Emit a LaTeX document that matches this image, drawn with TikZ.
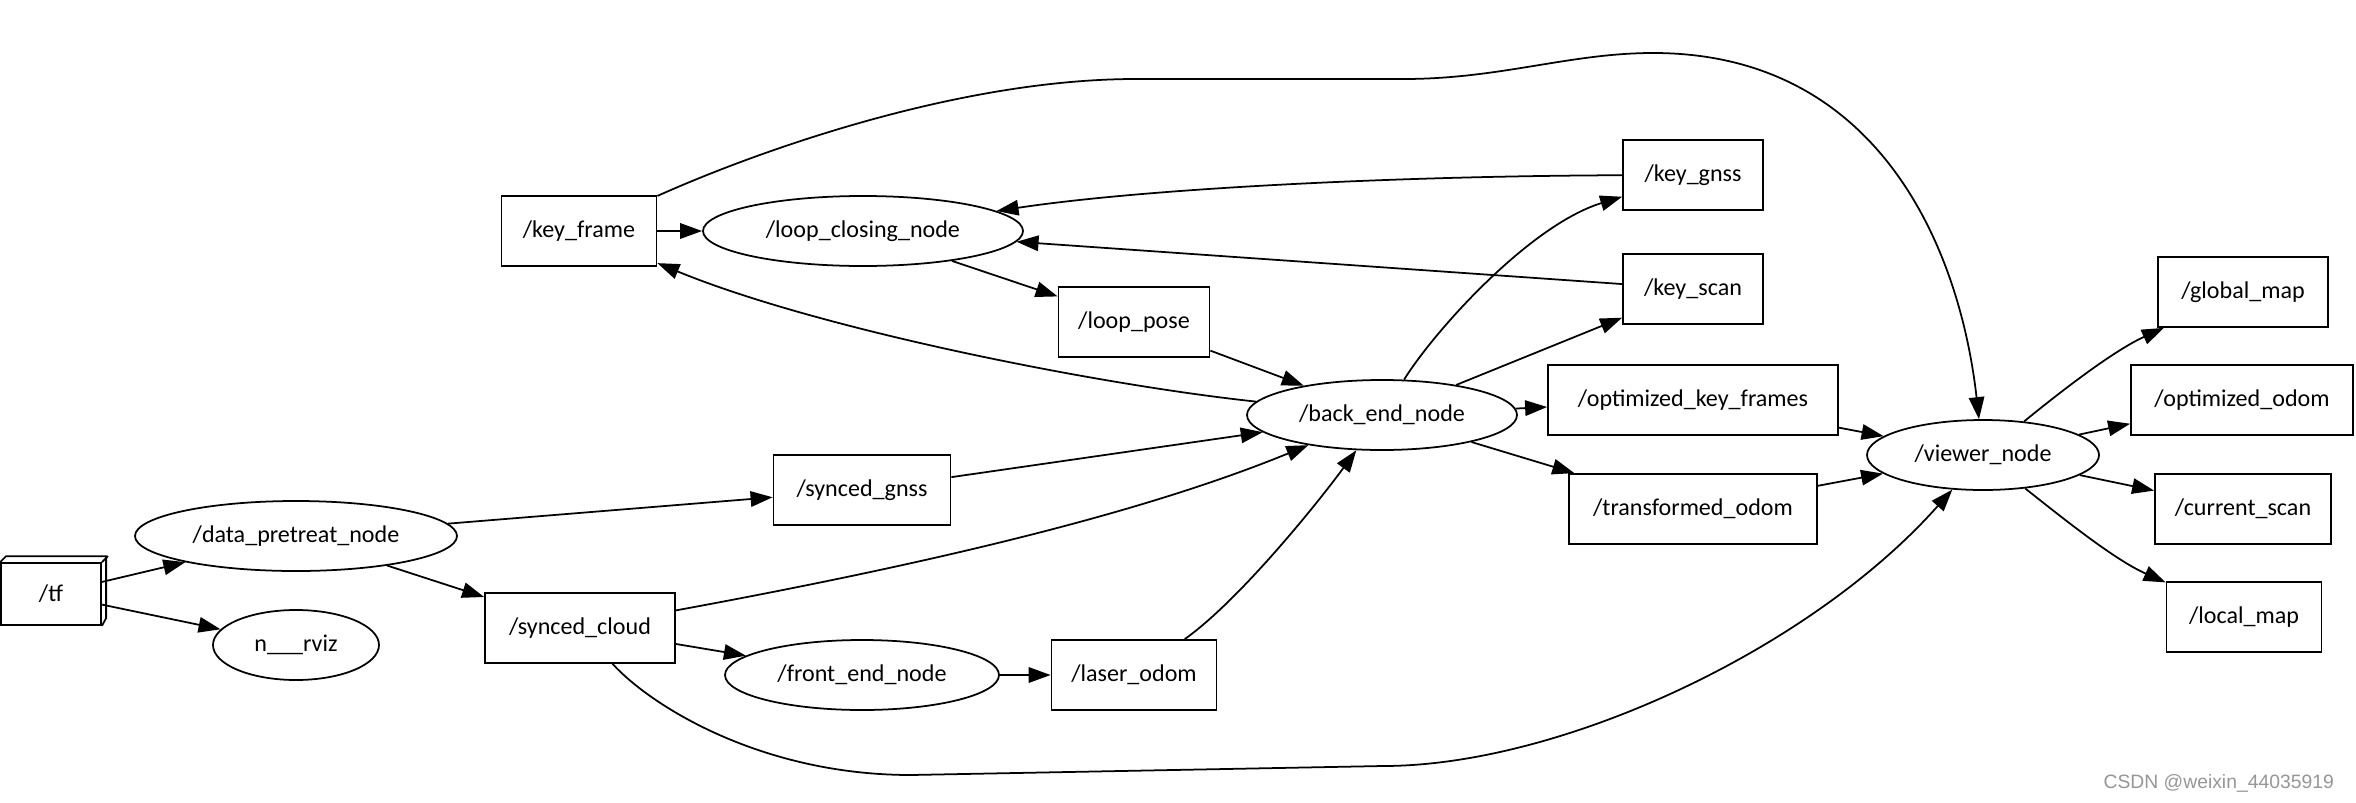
\documentclass[tikz,border=0pt]{standalone}
\usepackage{fontspec}
\setmainfont{Carlito}
\newfontfamily\wzfont{Liberation Sans}
\usetikzlibrary{shapes.geometric,arrows.meta}
\definecolor{wzgrau}{RGB}{150,150,150}

\begin{document}
\begin{tikzpicture}[x=0.2mm, y=-0.2mm, >={Triangle[length=4.4mm,width=3.1mm]},
    every node/.style={font=\fontsize{13.7}{16}\selectfont},
    thema/.style={draw, rectangle, line width=1pt, minimum height=14mm, inner sep=0pt},
    knoten/.style={draw, ellipse, line width=1pt, minimum height=14mm, inner sep=0pt},
    pfeil/.style={->, line width=1pt}]
    \useasboundingbox (0,0) rectangle (2356,802);

    % Eingang
    \node[thema, minimum width=20mm, minimum height=12.4mm] (tf) at (51,594) {/tf};
    \draw[line width=1pt] (tf.north west) -- ++(6,-6) -- ++(100,0) -- ++(0,62) -- (tf.south east);
    \draw[line width=1pt] (tf.north east) -- ++(6,-6);
    \node[knoten, minimum width=64.4mm] (datapre) at (296,536) {/data\_pretreat\_node};
    \node[knoten, minimum width=33.2mm] (rviz) at (296,645) {n\_\_\_rviz};

    % Vorne
    \node[thema, minimum width=38mm] (syncloud) at (580,628) {/synced\_cloud};
    \node[thema, minimum width=35.4mm] (syngnss) at (862,490) {/synced\_gnss};
    \node[knoten, minimum width=54.8mm] (frontend) at (862,675) {/front\_end\_node};
    \node[thema, minimum width=33mm] (laserodom) at (1134,675) {/laser\_odom};

    % Schleife
    \node[thema, minimum width=31mm] (keyframe) at (579,231) {/key\_frame};
    \node[knoten, minimum width=64mm] (loopclose) at (863,231) {/loop\_closing\_node};
    \node[thema, minimum width=30.2mm] (looppose) at (1134,322) {/loop\_pose};

    % Hinten
    \node[knoten, minimum width=54mm] (backend) at (1382,415) {/back\_end\_node};
    \node[thema, minimum width=28mm] (keygnss) at (1693,175) {/key\_gnss};
    \node[thema, minimum width=28mm] (keyscan) at (1693,289) {/key\_scan};
    \node[thema, minimum width=58mm] (optkf) at (1693,400) {/optimized\_key\_frames};
    \node[thema, minimum width=49.6mm] (transodom) at (1693,509) {/transformed\_odom};

    % Anzeige
    \node[knoten, minimum width=46.4mm] (viewer) at (1983,455) {/viewer\_node};
    \node[thema, minimum width=34mm] (globalmap) at (2243,292) {/global\_map};
    \node[thema, minimum width=44.4mm] (optodom) at (2242,400) {/optimized\_odom};
    \node[thema, minimum width=35.2mm] (curscan) at (2243,509) {/current\_scan};
    \node[thema, minimum width=31mm] (localmap) at (2244,617) {/local\_map};

    % Wasserzeichen
    \node[anchor=east, text=wzgrau, font=\wzfont\fontsize{11}{13}\selectfont] (wz) at (2340,783) {CSDN @weixin\_44035919};

    % Pfeile
    \draw[pfeil] (tf) -- (datapre);
    \draw[pfeil] (tf) -- (rviz);
    \draw[pfeil] (datapre) -- (syngnss);
    \draw[pfeil] (datapre) -- (syncloud);
    \draw[pfeil] (syncloud) -- (frontend);
    \draw[pfeil] (frontend) -- (laserodom);
    \draw[pfeil] (syncloud) .. controls (950,560) and (1150,510) .. (backend);
    \draw[pfeil] (laserodom) .. controls (1240,600) and (1320,500) .. (backend);
    \draw[pfeil] (syngnss) -- (backend);
    \draw[pfeil] (looppose) -- (backend);
    \draw[pfeil] (keyframe) -- (loopclose);
    \draw[pfeil] (loopclose) -- (looppose);
    \draw[pfeil] (keygnss) .. controls (1400,176) and (1150,188) .. (loopclose);
    \draw[pfeil] (keyscan) -- (loopclose);
    \draw[pfeil] (backend) .. controls (1100,385) and (820,330) .. (keyframe);
    \draw[pfeil] (backend) .. controls (1435,330) and (1530,225) .. (keygnss);
    \draw[pfeil] (backend) -- (keyscan);
    \draw[pfeil] (backend) -- (optkf);
    \draw[pfeil] (backend) -- (transodom);
    \draw[pfeil] (optkf) -- (viewer);
    \draw[pfeil] (transodom) -- (viewer);
    \draw[pfeil] (keyframe) .. controls (760,150) and (960,79) .. (1136,79) -- (1404,79)
        .. controls (1500,79) and (1570,53) .. (1653,53) .. controls (1880,53) and (1960,250) .. (viewer);
    \draw[pfeil] (syncloud) .. controls (650,705) and (760,775) .. (911,775) -- (1383,766)
        .. controls (1560,766) and (1810,650) .. (viewer);
    \draw[pfeil] (viewer) .. controls (2065,388) and (2115,350) .. (globalmap);
    \draw[pfeil] (viewer) -- (optodom);
    \draw[pfeil] (viewer) -- (curscan);
    \draw[pfeil] (viewer) .. controls (2065,520) and (2115,560) .. (localmap);
\end{tikzpicture}
\end{document}
